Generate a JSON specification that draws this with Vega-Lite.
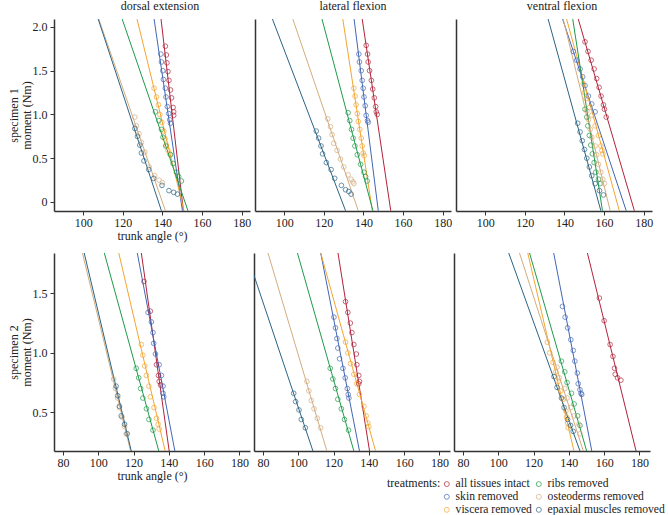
{
  "$schema": "https://vega.github.io/schema/vega-lite/v6.json",
  "padding": {"left": 7, "top": 0, "right": 0, "bottom": 0},
  "config": {
    "font": "Liberation Serif",
    "view": {"stroke": null},
    "axis": {"grid": false, "labelFont": "Liberation Serif", "titleFont": "Liberation Serif", "labelFontSize": 12, "titleFontSize": 12, "titleFontWeight": "normal", "labelColor": "#222", "titleColor": "#222", "domainColor": "#333", "tickColor": "#333", "domainWidth": 1.5, "tickSize": 4, "tickWidth": 1, "labelPadding": 2, "labelFlush": false, "titlePadding": 2},
    "axisY": {"labelPadding": 3, "titlePadding": -1, "titleLineHeight": 13},
    "title": {"font": "Liberation Serif", "fontSize": 12, "fontWeight": "normal", "color": "#222", "anchor": "middle", "offset": 6},
    "point": {"shape": "circle", "filled": false, "size": 22, "strokeWidth": 1}
  },
  "datasets": {
    "fits": [
      {"p": "d1", "t": "all tissues intact", "angle": 139.3, "moment": 2.09, "angle2": 150.6, "moment2": -0.1},
      {"p": "d1", "t": "skin removed", "angle": 135.8, "moment": 2.09, "angle2": 150.1, "moment2": -0.1},
      {"p": "d1", "t": "viscera removed", "angle": 127.2, "moment": 2.09, "angle2": 150.9, "moment2": -0.1},
      {"p": "d1", "t": "ribs removed", "angle": 119.7, "moment": 2.09, "angle2": 152.9, "moment2": -0.1},
      {"p": "d1", "t": "osteoderms removed", "angle": 107.9, "moment": 2.09, "angle2": 141.5, "moment2": -0.1},
      {"p": "d1", "t": "epaxial muscles removed", "angle": 107.6, "moment": 2.09, "angle2": 139.5, "moment2": -0.1},
      {"p": "l1", "t": "all tissues intact", "angle": 139.4, "moment": 2.09, "angle2": 153.8, "moment2": -0.1},
      {"p": "l1", "t": "skin removed", "angle": 135.3, "moment": 2.09, "angle2": 147.5, "moment2": -0.1},
      {"p": "l1", "t": "viscera removed", "angle": 129.6, "moment": 2.09, "angle2": 144.5, "moment2": -0.1},
      {"p": "l1", "t": "ribs removed", "angle": 119.1, "moment": 2.09, "angle2": 144.8, "moment2": -0.1},
      {"p": "l1", "t": "osteoderms removed", "angle": 104.4, "moment": 2.09, "angle2": 137.4, "moment2": -0.1},
      {"p": "l1", "t": "epaxial muscles removed", "angle": 94.1, "moment": 2.09, "angle2": 131.0, "moment2": -0.1},
      {"p": "v1", "t": "all tissues intact", "angle": 147.0, "moment": 2.09, "angle2": 175.3, "moment2": -0.1},
      {"p": "v1", "t": "skin removed", "angle": 139.1, "moment": 2.09, "angle2": 171.2, "moment2": -0.1},
      {"p": "v1", "t": "viscera removed", "angle": 141.1, "moment": 2.09, "angle2": 167.7, "moment2": -0.1},
      {"p": "v1", "t": "ribs removed", "angle": 144.2, "moment": 2.09, "angle2": 159.2, "moment2": -0.1},
      {"p": "v1", "t": "osteoderms removed", "angle": 139.4, "moment": 2.09, "angle2": 163.1, "moment2": -0.1},
      {"p": "v1", "t": "epaxial muscles removed", "angle": 131.8, "moment": 2.09, "angle2": 158.4, "moment2": -0.1},
      {"p": "d2", "t": "all tissues intact", "angle": 124.4, "moment": 1.84, "angle2": 140.2, "moment2": 0.175},
      {"p": "d2", "t": "skin removed", "angle": 122.1, "moment": 1.84, "angle2": 143.4, "moment2": 0.175},
      {"p": "d2", "t": "viscera removed", "angle": 111.6, "moment": 1.84, "angle2": 137.9, "moment2": 0.175},
      {"p": "d2", "t": "ribs removed", "angle": 103.4, "moment": 1.84, "angle2": 134.3, "moment2": 0.175},
      {"p": "d2", "t": "osteoderms removed", "angle": 91.0, "moment": 1.84, "angle2": 118.3, "moment2": 0.175},
      {"p": "d2", "t": "epaxial muscles removed", "angle": 92.0, "moment": 1.84, "angle2": 118.7, "moment2": 0.175},
      {"p": "l2", "t": "all tissues intact", "angle": 122.5, "moment": 1.84, "angle2": 140.4, "moment2": 0.175},
      {"p": "l2", "t": "skin removed", "angle": 112.7, "moment": 1.84, "angle2": 134.7, "moment2": 0.175},
      {"p": "l2", "t": "viscera removed", "angle": 112.7, "moment": 1.84, "angle2": 143.8, "moment2": 0.175},
      {"p": "l2", "t": "ribs removed", "angle": 99.5, "moment": 1.84, "angle2": 131.5, "moment2": 0.175},
      {"p": "l2", "t": "osteoderms removed", "angle": 82.8, "moment": 1.84, "angle2": 116.2, "moment2": 0.175},
      {"p": "l2", "t": "epaxial muscles removed", "angle": 70.6, "moment": 1.84, "angle2": 108.3, "moment2": 0.175},
      {"p": "v2", "t": "all tissues intact", "angle": 150.5, "moment": 1.84, "angle2": 178.1, "moment2": 0.175},
      {"p": "v2", "t": "skin removed", "angle": 131.4, "moment": 1.84, "angle2": 153.0, "moment2": 0.175},
      {"p": "v2", "t": "viscera removed", "angle": 116.7, "moment": 1.84, "angle2": 142.9, "moment2": 0.175},
      {"p": "v2", "t": "ribs removed", "angle": 117.7, "moment": 1.84, "angle2": 150.1, "moment2": 0.175},
      {"p": "v2", "t": "osteoderms removed", "angle": 112.0, "moment": 1.84, "angle2": 148.2, "moment2": 0.175},
      {"p": "v2", "t": "epaxial muscles removed", "angle": 105.9, "moment": 1.84, "angle2": 146.3, "moment2": 0.175}
    ],
    "pts": [
      {"p":"d1","t":"all tissues intact","angle":141.5,"moment":1.78},{"p":"d1","t":"all tissues intact","angle":142.0,"moment":1.68},{"p":"d1","t":"all tissues intact","angle":142.3,"moment":1.59},{"p":"d1","t":"all tissues intact","angle":142.8,"moment":1.49},{"p":"d1","t":"all tissues intact","angle":143.3,"moment":1.39},{"p":"d1","t":"all tissues intact","angle":144.1,"moment":1.28},{"p":"d1","t":"all tissues intact","angle":144.6,"moment":1.19},{"p":"d1","t":"all tissues intact","angle":145.4,"moment":1.08},{"p":"d1","t":"all tissues intact","angle":145.7,"moment":1.03},{"p":"d1","t":"all tissues intact","angle":145.7,"moment":0.99},
      {"p":"d1","t":"skin removed","angle":139.2,"moment":1.69},{"p":"d1","t":"skin removed","angle":139.5,"moment":1.60},{"p":"d1","t":"skin removed","angle":140.2,"moment":1.50},{"p":"d1","t":"skin removed","angle":140.5,"moment":1.40},{"p":"d1","t":"skin removed","angle":141.5,"moment":1.30},{"p":"d1","t":"skin removed","angle":141.8,"moment":1.20},{"p":"d1","t":"skin removed","angle":142.5,"moment":1.09},{"p":"d1","t":"skin removed","angle":143.2,"moment":1.01},{"p":"d1","t":"skin removed","angle":143.7,"moment":0.94},{"p":"d1","t":"skin removed","angle":144.1,"moment":0.90},
      {"p":"d1","t":"viscera removed","angle":135.8,"moment":1.30},{"p":"d1","t":"viscera removed","angle":137.0,"moment":1.20},{"p":"d1","t":"viscera removed","angle":138.0,"moment":1.11},{"p":"d1","t":"viscera removed","angle":138.7,"moment":1.00},{"p":"d1","t":"viscera removed","angle":139.7,"moment":0.91},{"p":"d1","t":"viscera removed","angle":140.7,"moment":0.81},{"p":"d1","t":"viscera removed","angle":141.3,"moment":0.72},{"p":"d1","t":"viscera removed","angle":142.0,"moment":0.65},{"p":"d1","t":"viscera removed","angle":142.8,"moment":0.59},{"p":"d1","t":"viscera removed","angle":143.7,"moment":0.55},
      {"p":"d1","t":"ribs removed","angle":136.5,"moment":1.03},{"p":"d1","t":"ribs removed","angle":138.2,"moment":0.93},{"p":"d1","t":"ribs removed","angle":139.5,"moment":0.83},{"p":"d1","t":"ribs removed","angle":140.3,"moment":0.74},{"p":"d1","t":"ribs removed","angle":141.7,"moment":0.64},{"p":"d1","t":"ribs removed","angle":144.1,"moment":0.54},{"p":"d1","t":"ribs removed","angle":145.4,"moment":0.44},{"p":"d1","t":"ribs removed","angle":147.1,"moment":0.34},{"p":"d1","t":"ribs removed","angle":148.2,"moment":0.29},{"p":"d1","t":"ribs removed","angle":149.6,"moment":0.24},
      {"p":"d1","t":"osteoderms removed","angle":126.1,"moment":0.97},{"p":"d1","t":"osteoderms removed","angle":126.9,"moment":0.87},{"p":"d1","t":"osteoderms removed","angle":128.2,"moment":0.78},{"p":"d1","t":"osteoderms removed","angle":129.4,"moment":0.68},{"p":"d1","t":"osteoderms removed","angle":131.1,"moment":0.57},{"p":"d1","t":"osteoderms removed","angle":133.3,"moment":0.40},{"p":"d1","t":"osteoderms removed","angle":136.1,"moment":0.30},{"p":"d1","t":"osteoderms removed","angle":138.3,"moment":0.25},{"p":"d1","t":"osteoderms removed","angle":140.0,"moment":0.22},
      {"p":"d1","t":"epaxial muscles removed","angle":126.1,"moment":0.84},{"p":"d1","t":"epaxial muscles removed","angle":127.4,"moment":0.75},{"p":"d1","t":"epaxial muscles removed","angle":128.6,"moment":0.65},{"p":"d1","t":"epaxial muscles removed","angle":129.4,"moment":0.56},{"p":"d1","t":"epaxial muscles removed","angle":130.7,"moment":0.47},{"p":"d1","t":"epaxial muscles removed","angle":133.1,"moment":0.37},{"p":"d1","t":"epaxial muscles removed","angle":135.6,"moment":0.27},{"p":"d1","t":"epaxial muscles removed","angle":139.8,"moment":0.19},{"p":"d1","t":"epaxial muscles removed","angle":143.3,"moment":0.13},{"p":"d1","t":"epaxial muscles removed","angle":145.7,"moment":0.11},{"p":"d1","t":"epaxial muscles removed","angle":147.6,"moment":0.09},
      {"p":"l1","t":"all tissues intact","angle":141.4,"moment":1.79},{"p":"l1","t":"all tissues intact","angle":142.1,"moment":1.69},{"p":"l1","t":"all tissues intact","angle":142.4,"moment":1.60},{"p":"l1","t":"all tissues intact","angle":143.1,"moment":1.50},{"p":"l1","t":"all tissues intact","angle":144.0,"moment":1.39},{"p":"l1","t":"all tissues intact","angle":144.7,"moment":1.29},{"p":"l1","t":"all tissues intact","angle":145.5,"moment":1.19},{"p":"l1","t":"all tissues intact","angle":146.2,"moment":1.09},{"p":"l1","t":"all tissues intact","angle":146.5,"moment":1.03},{"p":"l1","t":"all tissues intact","angle":147.0,"moment":1.00},
      {"p":"l1","t":"skin removed","angle":137.7,"moment":1.69},{"p":"l1","t":"skin removed","angle":138.0,"moment":1.60},{"p":"l1","t":"skin removed","angle":138.9,"moment":1.50},{"p":"l1","t":"skin removed","angle":139.4,"moment":1.39},{"p":"l1","t":"skin removed","angle":139.9,"moment":1.30},{"p":"l1","t":"skin removed","angle":140.3,"moment":1.20},{"p":"l1","t":"skin removed","angle":140.9,"moment":1.10},{"p":"l1","t":"skin removed","angle":141.4,"moment":0.99},{"p":"l1","t":"skin removed","angle":142.1,"moment":0.93},{"p":"l1","t":"skin removed","angle":142.4,"moment":0.91},
      {"p":"l1","t":"viscera removed","angle":135.2,"moment":1.30},{"p":"l1","t":"viscera removed","angle":135.8,"moment":1.21},{"p":"l1","t":"viscera removed","angle":136.3,"moment":1.11},{"p":"l1","t":"viscera removed","angle":136.9,"moment":1.01},{"p":"l1","t":"viscera removed","angle":137.4,"moment":0.92},{"p":"l1","t":"viscera removed","angle":138.2,"moment":0.83},{"p":"l1","t":"viscera removed","angle":138.9,"moment":0.73},{"p":"l1","t":"viscera removed","angle":139.4,"moment":0.64},{"p":"l1","t":"viscera removed","angle":139.9,"moment":0.56},{"p":"l1","t":"viscera removed","angle":140.4,"moment":0.53},
      {"p":"l1","t":"ribs removed","angle":132.3,"moment":1.02},{"p":"l1","t":"ribs removed","angle":133.1,"moment":0.93},{"p":"l1","t":"ribs removed","angle":134.0,"moment":0.83},{"p":"l1","t":"ribs removed","angle":134.8,"moment":0.73},{"p":"l1","t":"ribs removed","angle":135.7,"moment":0.64},{"p":"l1","t":"ribs removed","angle":136.9,"moment":0.54},{"p":"l1","t":"ribs removed","angle":138.6,"moment":0.43},{"p":"l1","t":"ribs removed","angle":140.3,"moment":0.34},{"p":"l1","t":"ribs removed","angle":141.1,"moment":0.29},{"p":"l1","t":"ribs removed","angle":141.9,"moment":0.24},
      {"p":"l1","t":"osteoderms removed","angle":122.0,"moment":0.95},{"p":"l1","t":"osteoderms removed","angle":123.4,"moment":0.86},{"p":"l1","t":"osteoderms removed","angle":124.2,"moment":0.77},{"p":"l1","t":"osteoderms removed","angle":125.0,"moment":0.67},{"p":"l1","t":"osteoderms removed","angle":126.7,"moment":0.59},{"p":"l1","t":"osteoderms removed","angle":128.4,"moment":0.49},{"p":"l1","t":"osteoderms removed","angle":130.1,"moment":0.40},{"p":"l1","t":"osteoderms removed","angle":132.3,"moment":0.31},{"p":"l1","t":"osteoderms removed","angle":133.8,"moment":0.26},{"p":"l1","t":"osteoderms removed","angle":134.7,"moment":0.23},{"p":"l1","t":"osteoderms removed","angle":135.2,"moment":0.21},
      {"p":"l1","t":"epaxial muscles removed","angle":116.2,"moment":0.81},{"p":"l1","t":"epaxial muscles removed","angle":117.4,"moment":0.73},{"p":"l1","t":"epaxial muscles removed","angle":118.6,"moment":0.64},{"p":"l1","t":"epaxial muscles removed","angle":119.4,"moment":0.55},{"p":"l1","t":"epaxial muscles removed","angle":121.3,"moment":0.45},{"p":"l1","t":"epaxial muscles removed","angle":123.7,"moment":0.37},{"p":"l1","t":"epaxial muscles removed","angle":125.5,"moment":0.27},{"p":"l1","t":"epaxial muscles removed","angle":128.9,"moment":0.19},{"p":"l1","t":"epaxial muscles removed","angle":131.0,"moment":0.14},{"p":"l1","t":"epaxial muscles removed","angle":132.6,"moment":0.12},{"p":"l1","t":"epaxial muscles removed","angle":133.8,"moment":0.09},
      {"p":"v1","t":"all tissues intact","angle":150.4,"moment":1.83},{"p":"v1","t":"all tissues intact","angle":151.9,"moment":1.72},{"p":"v1","t":"all tissues intact","angle":153.5,"moment":1.62},{"p":"v1","t":"all tissues intact","angle":155.0,"moment":1.52},{"p":"v1","t":"all tissues intact","angle":156.3,"moment":1.41},{"p":"v1","t":"all tissues intact","angle":157.5,"moment":1.31},{"p":"v1","t":"all tissues intact","angle":158.5,"moment":1.21},{"p":"v1","t":"all tissues intact","angle":159.7,"moment":1.11},{"p":"v1","t":"all tissues intact","angle":160.2,"moment":1.06},{"p":"v1","t":"all tissues intact","angle":161.1,"moment":0.97},
      {"p":"v1","t":"skin removed","angle":144.5,"moment":1.72},{"p":"v1","t":"skin removed","angle":146.2,"moment":1.62},{"p":"v1","t":"skin removed","angle":147.9,"moment":1.52},{"p":"v1","t":"skin removed","angle":149.2,"moment":1.43},{"p":"v1","t":"skin removed","angle":150.4,"moment":1.33},{"p":"v1","t":"skin removed","angle":152.1,"moment":1.21},{"p":"v1","t":"skin removed","angle":153.8,"moment":1.12},{"p":"v1","t":"skin removed","angle":155.5,"moment":1.03},
      {"p":"v1","t":"viscera removed","angle":149.5,"moment":1.35},{"p":"v1","t":"viscera removed","angle":150.1,"moment":1.25},{"p":"v1","t":"viscera removed","angle":150.9,"moment":1.18},{"p":"v1","t":"viscera removed","angle":152.6,"moment":1.08},{"p":"v1","t":"viscera removed","angle":153.8,"moment":0.99},{"p":"v1","t":"viscera removed","angle":155.5,"moment":0.87},{"p":"v1","t":"viscera removed","angle":157.2,"moment":0.76},{"p":"v1","t":"viscera removed","angle":158.4,"moment":0.64},{"p":"v1","t":"viscera removed","angle":158.9,"moment":0.59},{"p":"v1","t":"viscera removed","angle":159.4,"moment":0.55},
      {"p":"v1","t":"ribs removed","angle":150.4,"moment":1.06},{"p":"v1","t":"ribs removed","angle":151.3,"moment":0.97},{"p":"v1","t":"ribs removed","angle":151.8,"moment":0.87},{"p":"v1","t":"ribs removed","angle":152.6,"moment":0.76},{"p":"v1","t":"ribs removed","angle":153.3,"moment":0.65},{"p":"v1","t":"ribs removed","angle":154.1,"moment":0.55},{"p":"v1","t":"ribs removed","angle":155.0,"moment":0.45},{"p":"v1","t":"ribs removed","angle":155.8,"moment":0.34},{"p":"v1","t":"ribs removed","angle":157.2,"moment":0.26},{"p":"v1","t":"ribs removed","angle":158.0,"moment":0.21},
      {"p":"v1","t":"osteoderms removed","angle":151.3,"moment":1.04},{"p":"v1","t":"osteoderms removed","angle":152.1,"moment":0.94},{"p":"v1","t":"osteoderms removed","angle":153.0,"moment":0.83},{"p":"v1","t":"osteoderms removed","angle":153.8,"moment":0.74},{"p":"v1","t":"osteoderms removed","angle":155.5,"moment":0.64},{"p":"v1","t":"osteoderms removed","angle":156.3,"moment":0.54},{"p":"v1","t":"osteoderms removed","angle":157.2,"moment":0.43},{"p":"v1","t":"osteoderms removed","angle":158.4,"moment":0.34},{"p":"v1","t":"osteoderms removed","angle":159.4,"moment":0.26},{"p":"v1","t":"osteoderms removed","angle":160.2,"moment":0.21},
      {"p":"v1","t":"epaxial muscles removed","angle":146.7,"moment":0.90},{"p":"v1","t":"epaxial muscles removed","angle":147.9,"moment":0.80},{"p":"v1","t":"epaxial muscles removed","angle":149.0,"moment":0.70},{"p":"v1","t":"epaxial muscles removed","angle":150.1,"moment":0.60},{"p":"v1","t":"epaxial muscles removed","angle":151.3,"moment":0.50},{"p":"v1","t":"epaxial muscles removed","angle":152.6,"moment":0.40},{"p":"v1","t":"epaxial muscles removed","angle":153.8,"moment":0.30},{"p":"v1","t":"epaxial muscles removed","angle":155.5,"moment":0.21},{"p":"v1","t":"epaxial muscles removed","angle":157.7,"moment":0.13},{"p":"v1","t":"epaxial muscles removed","angle":159.7,"moment":0.08},
      {"p":"d2","t":"all tissues intact","angle":125.9,"moment":1.60},{"p":"d2","t":"all tissues intact","angle":129.5,"moment":1.35},{"p":"d2","t":"all tissues intact","angle":133.0,"moment":0.90},{"p":"d2","t":"all tissues intact","angle":134.1,"moment":0.81},{"p":"d2","t":"all tissues intact","angle":134.5,"moment":0.76},{"p":"d2","t":"all tissues intact","angle":135.3,"moment":0.73},
      {"p":"d2","t":"skin removed","angle":128.2,"moment":1.34},{"p":"d2","t":"skin removed","angle":130.1,"moment":1.26},{"p":"d2","t":"skin removed","angle":131.0,"moment":1.17},{"p":"d2","t":"skin removed","angle":131.4,"moment":1.08},{"p":"d2","t":"skin removed","angle":132.4,"moment":0.99},{"p":"d2","t":"skin removed","angle":134.5,"moment":0.90},{"p":"d2","t":"skin removed","angle":135.8,"moment":0.81},{"p":"d2","t":"skin removed","angle":136.7,"moment":0.72},{"p":"d2","t":"skin removed","angle":136.7,"moment":0.66},{"p":"d2","t":"skin removed","angle":137.1,"moment":0.63},
      {"p":"d2","t":"viscera removed","angle":124.4,"moment":1.07},{"p":"d2","t":"viscera removed","angle":125.3,"moment":0.98},{"p":"d2","t":"viscera removed","angle":126.3,"moment":0.89},{"p":"d2","t":"viscera removed","angle":127.3,"moment":0.81},{"p":"d2","t":"viscera removed","angle":128.7,"moment":0.72},{"p":"d2","t":"viscera removed","angle":129.5,"moment":0.63},{"p":"d2","t":"viscera removed","angle":131.6,"moment":0.54},{"p":"d2","t":"viscera removed","angle":133.0,"moment":0.45},{"p":"d2","t":"viscera removed","angle":133.9,"moment":0.40},{"p":"d2","t":"viscera removed","angle":134.5,"moment":0.36},
      {"p":"d2","t":"ribs removed","angle":121.5,"moment":0.87},{"p":"d2","t":"ribs removed","angle":122.9,"moment":0.79},{"p":"d2","t":"ribs removed","angle":124.0,"moment":0.70},{"p":"d2","t":"ribs removed","angle":125.3,"moment":0.62},{"p":"d2","t":"ribs removed","angle":127.3,"moment":0.53},{"p":"d2","t":"ribs removed","angle":128.7,"moment":0.44},{"p":"d2","t":"ribs removed","angle":131.0,"moment":0.35},
      {"p":"d2","t":"osteoderms removed","angle":108.7,"moment":0.78},{"p":"d2","t":"osteoderms removed","angle":109.7,"moment":0.70},{"p":"d2","t":"osteoderms removed","angle":111.0,"moment":0.62},{"p":"d2","t":"osteoderms removed","angle":112.0,"moment":0.54},{"p":"d2","t":"osteoderms removed","angle":113.5,"moment":0.46},{"p":"d2","t":"osteoderms removed","angle":114.9,"moment":0.38},{"p":"d2","t":"osteoderms removed","angle":115.8,"moment":0.32},
      {"p":"d2","t":"epaxial muscles removed","angle":110.1,"moment":0.72},{"p":"d2","t":"epaxial muscles removed","angle":111.0,"moment":0.64},{"p":"d2","t":"epaxial muscles removed","angle":112.0,"moment":0.55},{"p":"d2","t":"epaxial muscles removed","angle":113.0,"moment":0.47},{"p":"d2","t":"epaxial muscles removed","angle":114.9,"moment":0.40},{"p":"d2","t":"epaxial muscles removed","angle":116.4,"moment":0.32},
      {"p":"l2","t":"all tissues intact","angle":126.8,"moment":1.43},{"p":"l2","t":"all tissues intact","angle":128.1,"moment":1.34},{"p":"l2","t":"all tissues intact","angle":129.5,"moment":1.25},{"p":"l2","t":"all tissues intact","angle":130.4,"moment":1.17},{"p":"l2","t":"all tissues intact","angle":131.5,"moment":1.07},{"p":"l2","t":"all tissues intact","angle":132.9,"moment":0.99},{"p":"l2","t":"all tissues intact","angle":133.2,"moment":0.90},{"p":"l2","t":"all tissues intact","angle":134.3,"moment":0.81},{"p":"l2","t":"all tissues intact","angle":134.7,"moment":0.76},{"p":"l2","t":"all tissues intact","angle":134.3,"moment":0.74},
      {"p":"l2","t":"skin removed","angle":120.2,"moment":1.30},{"p":"l2","t":"skin removed","angle":121.1,"moment":1.21},{"p":"l2","t":"skin removed","angle":121.9,"moment":1.12},{"p":"l2","t":"skin removed","angle":122.4,"moment":1.04},{"p":"l2","t":"skin removed","angle":123.4,"moment":0.95},{"p":"l2","t":"skin removed","angle":125.3,"moment":0.87},{"p":"l2","t":"skin removed","angle":126.6,"moment":0.79},{"p":"l2","t":"skin removed","angle":127.8,"moment":0.70},{"p":"l2","t":"skin removed","angle":128.3,"moment":0.65},{"p":"l2","t":"skin removed","angle":128.7,"moment":0.62},
      {"p":"l2","t":"viscera removed","angle":126.8,"moment":1.09},{"p":"l2","t":"viscera removed","angle":128.1,"moment":1.00},{"p":"l2","t":"viscera removed","angle":129.6,"moment":0.91},{"p":"l2","t":"viscera removed","angle":131.5,"moment":0.82},{"p":"l2","t":"viscera removed","angle":133.2,"moment":0.74},{"p":"l2","t":"viscera removed","angle":134.7,"moment":0.65},{"p":"l2","t":"viscera removed","angle":137.2,"moment":0.55},{"p":"l2","t":"viscera removed","angle":138.5,"moment":0.47},{"p":"l2","t":"viscera removed","angle":139.4,"moment":0.41},{"p":"l2","t":"viscera removed","angle":140.0,"moment":0.38},
      {"p":"l2","t":"ribs removed","angle":118.1,"moment":0.87},{"p":"l2","t":"ribs removed","angle":119.6,"moment":0.78},{"p":"l2","t":"ribs removed","angle":121.1,"moment":0.70},{"p":"l2","t":"ribs removed","angle":122.4,"moment":0.61},{"p":"l2","t":"ribs removed","angle":124.4,"moment":0.53},{"p":"l2","t":"ribs removed","angle":126.2,"moment":0.44},{"p":"l2","t":"ribs removed","angle":128.5,"moment":0.35},
      {"p":"l2","t":"osteoderms removed","angle":104.9,"moment":0.76},{"p":"l2","t":"osteoderms removed","angle":106.0,"moment":0.68},{"p":"l2","t":"osteoderms removed","angle":107.4,"moment":0.60},{"p":"l2","t":"osteoderms removed","angle":108.9,"moment":0.53},{"p":"l2","t":"osteoderms removed","angle":110.8,"moment":0.45},{"p":"l2","t":"osteoderms removed","angle":112.7,"moment":0.37},
      {"p":"l2","t":"epaxial muscles removed","angle":97.4,"moment":0.66},{"p":"l2","t":"epaxial muscles removed","angle":98.5,"moment":0.59},{"p":"l2","t":"epaxial muscles removed","angle":100.4,"moment":0.52},{"p":"l2","t":"epaxial muscles removed","angle":101.7,"moment":0.44},{"p":"l2","t":"epaxial muscles removed","angle":104.0,"moment":0.37},
      {"p":"v2","t":"all tissues intact","angle":157.3,"moment":1.46},{"p":"v2","t":"all tissues intact","angle":160.0,"moment":1.27},{"p":"v2","t":"all tissues intact","angle":163.4,"moment":1.07},{"p":"v2","t":"all tissues intact","angle":165.0,"moment":0.97},{"p":"v2","t":"all tissues intact","angle":165.9,"moment":0.87},{"p":"v2","t":"all tissues intact","angle":166.3,"moment":0.82},{"p":"v2","t":"all tissues intact","angle":167.6,"moment":0.79},{"p":"v2","t":"all tissues intact","angle":169.5,"moment":0.77},
      {"p":"v2","t":"skin removed","angle":136.4,"moment":1.39},{"p":"v2","t":"skin removed","angle":137.9,"moment":1.30},{"p":"v2","t":"skin removed","angle":139.3,"moment":1.21},{"p":"v2","t":"skin removed","angle":141.1,"moment":1.11},{"p":"v2","t":"skin removed","angle":142.5,"moment":1.02},{"p":"v2","t":"skin removed","angle":143.4,"moment":0.93},{"p":"v2","t":"skin removed","angle":144.8,"moment":0.83},{"p":"v2","t":"skin removed","angle":145.3,"moment":0.74},{"p":"v2","t":"skin removed","angle":146.3,"moment":0.69},{"p":"v2","t":"skin removed","angle":146.9,"moment":0.66},{"p":"v2","t":"skin removed","angle":147.3,"moment":0.65},
      {"p":"v2","t":"viscera removed","angle":127.8,"moment":1.09},{"p":"v2","t":"viscera removed","angle":129.1,"moment":1.00},{"p":"v2","t":"viscera removed","angle":131.0,"moment":0.92},{"p":"v2","t":"viscera removed","angle":132.6,"moment":0.84},{"p":"v2","t":"viscera removed","angle":133.9,"moment":0.76},{"p":"v2","t":"viscera removed","angle":135.4,"moment":0.68},{"p":"v2","t":"viscera removed","angle":136.8,"moment":0.61},{"p":"v2","t":"viscera removed","angle":138.3,"moment":0.51},{"p":"v2","t":"viscera removed","angle":138.7,"moment":0.46},{"p":"v2","t":"viscera removed","angle":139.3,"moment":0.41},{"p":"v2","t":"viscera removed","angle":139.6,"moment":0.37},
      {"p":"v2","t":"ribs removed","angle":135.8,"moment":0.93},{"p":"v2","t":"ribs removed","angle":137.7,"moment":0.84},{"p":"v2","t":"ribs removed","angle":139.0,"moment":0.75},{"p":"v2","t":"ribs removed","angle":141.5,"moment":0.66},{"p":"v2","t":"ribs removed","angle":143.0,"moment":0.57},{"p":"v2","t":"ribs removed","angle":145.0,"moment":0.47},{"p":"v2","t":"ribs removed","angle":146.3,"moment":0.39},
      {"p":"v2","t":"osteoderms removed","angle":133.3,"moment":0.88},{"p":"v2","t":"osteoderms removed","angle":134.5,"moment":0.79},{"p":"v2","t":"osteoderms removed","angle":137.7,"moment":0.70},{"p":"v2","t":"osteoderms removed","angle":139.0,"moment":0.62},{"p":"v2","t":"osteoderms removed","angle":141.1,"moment":0.54},{"p":"v2","t":"osteoderms removed","angle":143.0,"moment":0.47},{"p":"v2","t":"osteoderms removed","angle":145.7,"moment":0.40},{"p":"v2","t":"osteoderms removed","angle":146.3,"moment":0.32},
      {"p":"v2","t":"epaxial muscles removed","angle":131.6,"moment":0.80},{"p":"v2","t":"epaxial muscles removed","angle":133.3,"moment":0.71},{"p":"v2","t":"epaxial muscles removed","angle":135.8,"moment":0.62},{"p":"v2","t":"epaxial muscles removed","angle":137.3,"moment":0.54},{"p":"v2","t":"epaxial muscles removed","angle":139.3,"moment":0.44},{"p":"v2","t":"epaxial muscles removed","angle":141.0,"moment":0.39},{"p":"v2","t":"epaxial muscles removed","angle":142.5,"moment":0.34}
    ]
  },
  "resolve": {"scale": {"x": "independent", "y": "independent"}},
  "spacing": 12,
  "vconcat": [
    {
      "resolve": {"scale": {"x": "independent", "y": "independent"}},
      "spacing": 4,
      "hconcat": [
        {
          "width": 196, "height": 192,
          "title": {"text": "dorsal extension", "dx": 8},
          "encoding": {
            "x": {"field": "angle", "type": "quantitative", "scale": {"domain": [85.3, 184.2], "nice": false, "zero": false}, "axis": {"values": [100, 120, 140, 160, 180], "title": "trunk angle (°)"}},
            "y": {"field": "moment", "type": "quantitative", "scale": {"domain": [-0.103, 2.091], "nice": false, "zero": false}, "axis": {"values": [0, 0.5, 1, 1.5, 2], "labelExpr": "datum.value == 0 ? '0' : format(datum.value, '.1f')", "title": ["specimen 1", "moment (Nm)"]}},
            "color": {"field": "t", "type": "nominal", "scale": {"domain": ["all tissues intact", "skin removed", "viscera removed", "ribs removed", "osteoderms removed", "epaxial muscles removed"], "range": ["#B2223A", "#4266B5", "#F4A52E", "#1E9A4A", "#D3AC7E", "#2B6385"]},
              "legend": {"title": "treatments:", "orient": "none", "legendX": 333, "legendY": 459, "columns": 2, "titleOrient": "left", "titleAnchor": "start", "titleFont": "Liberation Serif", "titleFontSize": 12, "titleFontWeight": "normal", "titleColor": "#222", "labelFont": "Liberation Serif", "labelFontSize": 11.6, "labelColor": "#222", "symbolType": "circle", "symbolSize": 25, "symbolStrokeWidth": 1, "rowPadding": 0, "columnPadding": 1, "labelOffset": 3, "titlePadding": 0, "padding": 0}}
          },
          "layer": [
            {"data": {"name": "fits"}, "transform": [{"filter": "datum.p == 'd1'"}], "mark": {"type": "rule", "clip": true, "strokeWidth": 1}, "encoding": {"x2": {"field": "angle2"}, "y2": {"field": "moment2"}}},
            {"data": {"name": "pts"}, "transform": [{"filter": "datum.p == 'd1'"}], "mark": {"type": "point", "clip": true}}
          ]
        },
        {
          "width": 196, "height": 192,
          "title": "lateral flexion",
          "encoding": {
            "x": {"field": "angle", "type": "quantitative", "scale": {"domain": [85.3, 184.2], "nice": false, "zero": false}, "axis": {"values": [100, 120, 140, 160, 180], "title": null}},
            "y": {"field": "moment", "type": "quantitative", "scale": {"domain": [-0.103, 2.091], "nice": false, "zero": false}, "axis": {"labels": false, "ticks": false, "title": null}},
            "color": {"field": "t", "type": "nominal"}
          },
          "layer": [
            {"data": {"name": "fits"}, "transform": [{"filter": "datum.p == 'l1'"}], "mark": {"type": "rule", "clip": true, "strokeWidth": 1}, "encoding": {"x2": {"field": "angle2"}, "y2": {"field": "moment2"}}},
            {"data": {"name": "pts"}, "transform": [{"filter": "datum.p == 'l1'"}], "mark": {"type": "point", "clip": true}}
          ]
        },
        {
          "width": 196, "height": 192,
          "title": {"text": "ventral flexion", "dx": 8},
          "encoding": {
            "x": {"field": "angle", "type": "quantitative", "scale": {"domain": [85.3, 184.2], "nice": false, "zero": false}, "axis": {"values": [100, 120, 140, 160, 180], "title": null}},
            "y": {"field": "moment", "type": "quantitative", "scale": {"domain": [-0.103, 2.091], "nice": false, "zero": false}, "axis": {"labels": false, "ticks": false, "title": null}},
            "color": {"field": "t", "type": "nominal"}
          },
          "layer": [
            {"data": {"name": "fits"}, "transform": [{"filter": "datum.p == 'v1'"}], "mark": {"type": "rule", "clip": true, "strokeWidth": 1}, "encoding": {"x2": {"field": "angle2"}, "y2": {"field": "moment2"}}},
            {"data": {"name": "pts"}, "transform": [{"filter": "datum.p == 'v1'"}], "mark": {"type": "point", "clip": true}}
          ]
        }
      ]
    },
    {
      "resolve": {"scale": {"x": "independent", "y": "independent"}},
      "spacing": 4,
      "hconcat": [
        {
          "width": 196, "height": 198,
          "encoding": {
            "x": {"field": "angle", "type": "quantitative", "scale": {"domain": [74.9, 186], "nice": false, "zero": false}, "axis": {"values": [80, 100, 120, 140, 160, 180], "title": "trunk angle (°)"}},
            "y": {"field": "moment", "type": "quantitative", "scale": {"domain": [0.175, 1.839], "nice": false, "zero": false}, "axis": {"values": [0.5, 1, 1.5], "format": ".1f", "title": ["specimen 2", "moment (Nm)"]}},
            "color": {"field": "t", "type": "nominal"}
          },
          "layer": [
            {"data": {"name": "fits"}, "transform": [{"filter": "datum.p == 'd2'"}], "mark": {"type": "rule", "clip": true, "strokeWidth": 1}, "encoding": {"x2": {"field": "angle2"}, "y2": {"field": "moment2"}}},
            {"data": {"name": "pts"}, "transform": [{"filter": "datum.p == 'd2'"}], "mark": {"type": "point", "clip": true}}
          ]
        },
        {
          "width": 196, "height": 198,
          "encoding": {
            "x": {"field": "angle", "type": "quantitative", "scale": {"domain": [74.9, 186], "nice": false, "zero": false}, "axis": {"values": [80, 100, 120, 140, 160, 180], "title": null}},
            "y": {"field": "moment", "type": "quantitative", "scale": {"domain": [0.175, 1.839], "nice": false, "zero": false}, "axis": {"labels": false, "ticks": false, "title": null}},
            "color": {"field": "t", "type": "nominal"}
          },
          "layer": [
            {"data": {"name": "fits"}, "transform": [{"filter": "datum.p == 'l2'"}], "mark": {"type": "rule", "clip": true, "strokeWidth": 1}, "encoding": {"x2": {"field": "angle2"}, "y2": {"field": "moment2"}}},
            {"data": {"name": "pts"}, "transform": [{"filter": "datum.p == 'l2'"}], "mark": {"type": "point", "clip": true}}
          ]
        },
        {
          "width": 196, "height": 198,
          "encoding": {
            "x": {"field": "angle", "type": "quantitative", "scale": {"domain": [74.9, 186], "nice": false, "zero": false}, "axis": {"values": [80, 100, 120, 140, 160, 180], "title": null}},
            "y": {"field": "moment", "type": "quantitative", "scale": {"domain": [0.175, 1.839], "nice": false, "zero": false}, "axis": {"labels": false, "ticks": false, "title": null}},
            "color": {"field": "t", "type": "nominal"}
          },
          "layer": [
            {"data": {"name": "fits"}, "transform": [{"filter": "datum.p == 'v2'"}], "mark": {"type": "rule", "clip": true, "strokeWidth": 1}, "encoding": {"x2": {"field": "angle2"}, "y2": {"field": "moment2"}}},
            {"data": {"name": "pts"}, "transform": [{"filter": "datum.p == 'v2'"}], "mark": {"type": "point", "clip": true}}
          ]
        }
      ]
    }
  ]
}
